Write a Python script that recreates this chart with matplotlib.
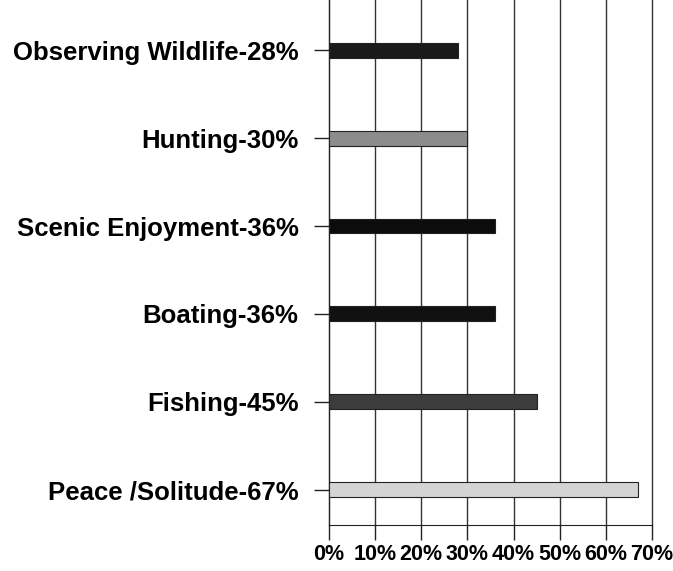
import numpy as np
import matplotlib.pyplot as plt

# values, bottom to top
labels = ['Peace /Solitude-67%', 'Fishing-45%', 'Boating-36%',
          'Scenic Enjoyment-36%', 'Hunting-30%', 'Observing Wildlife-28%']
values = [67, 45, 36, 36, 30, 28]
colors = ['#d4d4d4', '#3c3c3c', '#111111', '#0c0c0c', '#8c8c8c', '#1a1a1a']
xticks = [0, 10, 20, 30, 40, 50, 60, 70]

plt.rcParams['font.family'] = ['Liberation Sans', 'DejaVu Sans']

fig = plt.figure(figsize=(6.73, 5.71), dpi=100)
ax = fig.add_axes([329 / 673, 46 / 571, 323 / 673, 525 / 571])

y = np.arange(len(labels))
ax.barh(y, values, height=0.17, color=colors, edgecolor='#222222', linewidth=0.8, zorder=3)

ax.set_xlim(0, 70)
ax.set_ylim(-0.4, len(labels) - 1 + 0.57)
ax.set_xticks(xticks)
ax.set_xticklabels([f'{t}%' for t in xticks], fontsize=15.5, fontweight='bold')
ax.set_yticks(y)
ax.set_yticklabels(labels, fontsize=18.5, fontweight='bold')

for t in xticks:
    ax.axvline(t, color='#333333', linewidth=1.0, zorder=1, clip_on=False)

ax.spines['top'].set_visible(False)
ax.spines['right'].set_visible(False)
ax.spines['left'].set_color('#222222')
ax.spines['bottom'].set_color('#222222')
ax.tick_params(axis='y', length=11, width=1, pad=11, color='#222222')
ax.tick_params(axis='x', length=11, width=1, pad=3, color='#222222')

fig.savefig('out.png', dpi=100, facecolor='white')
